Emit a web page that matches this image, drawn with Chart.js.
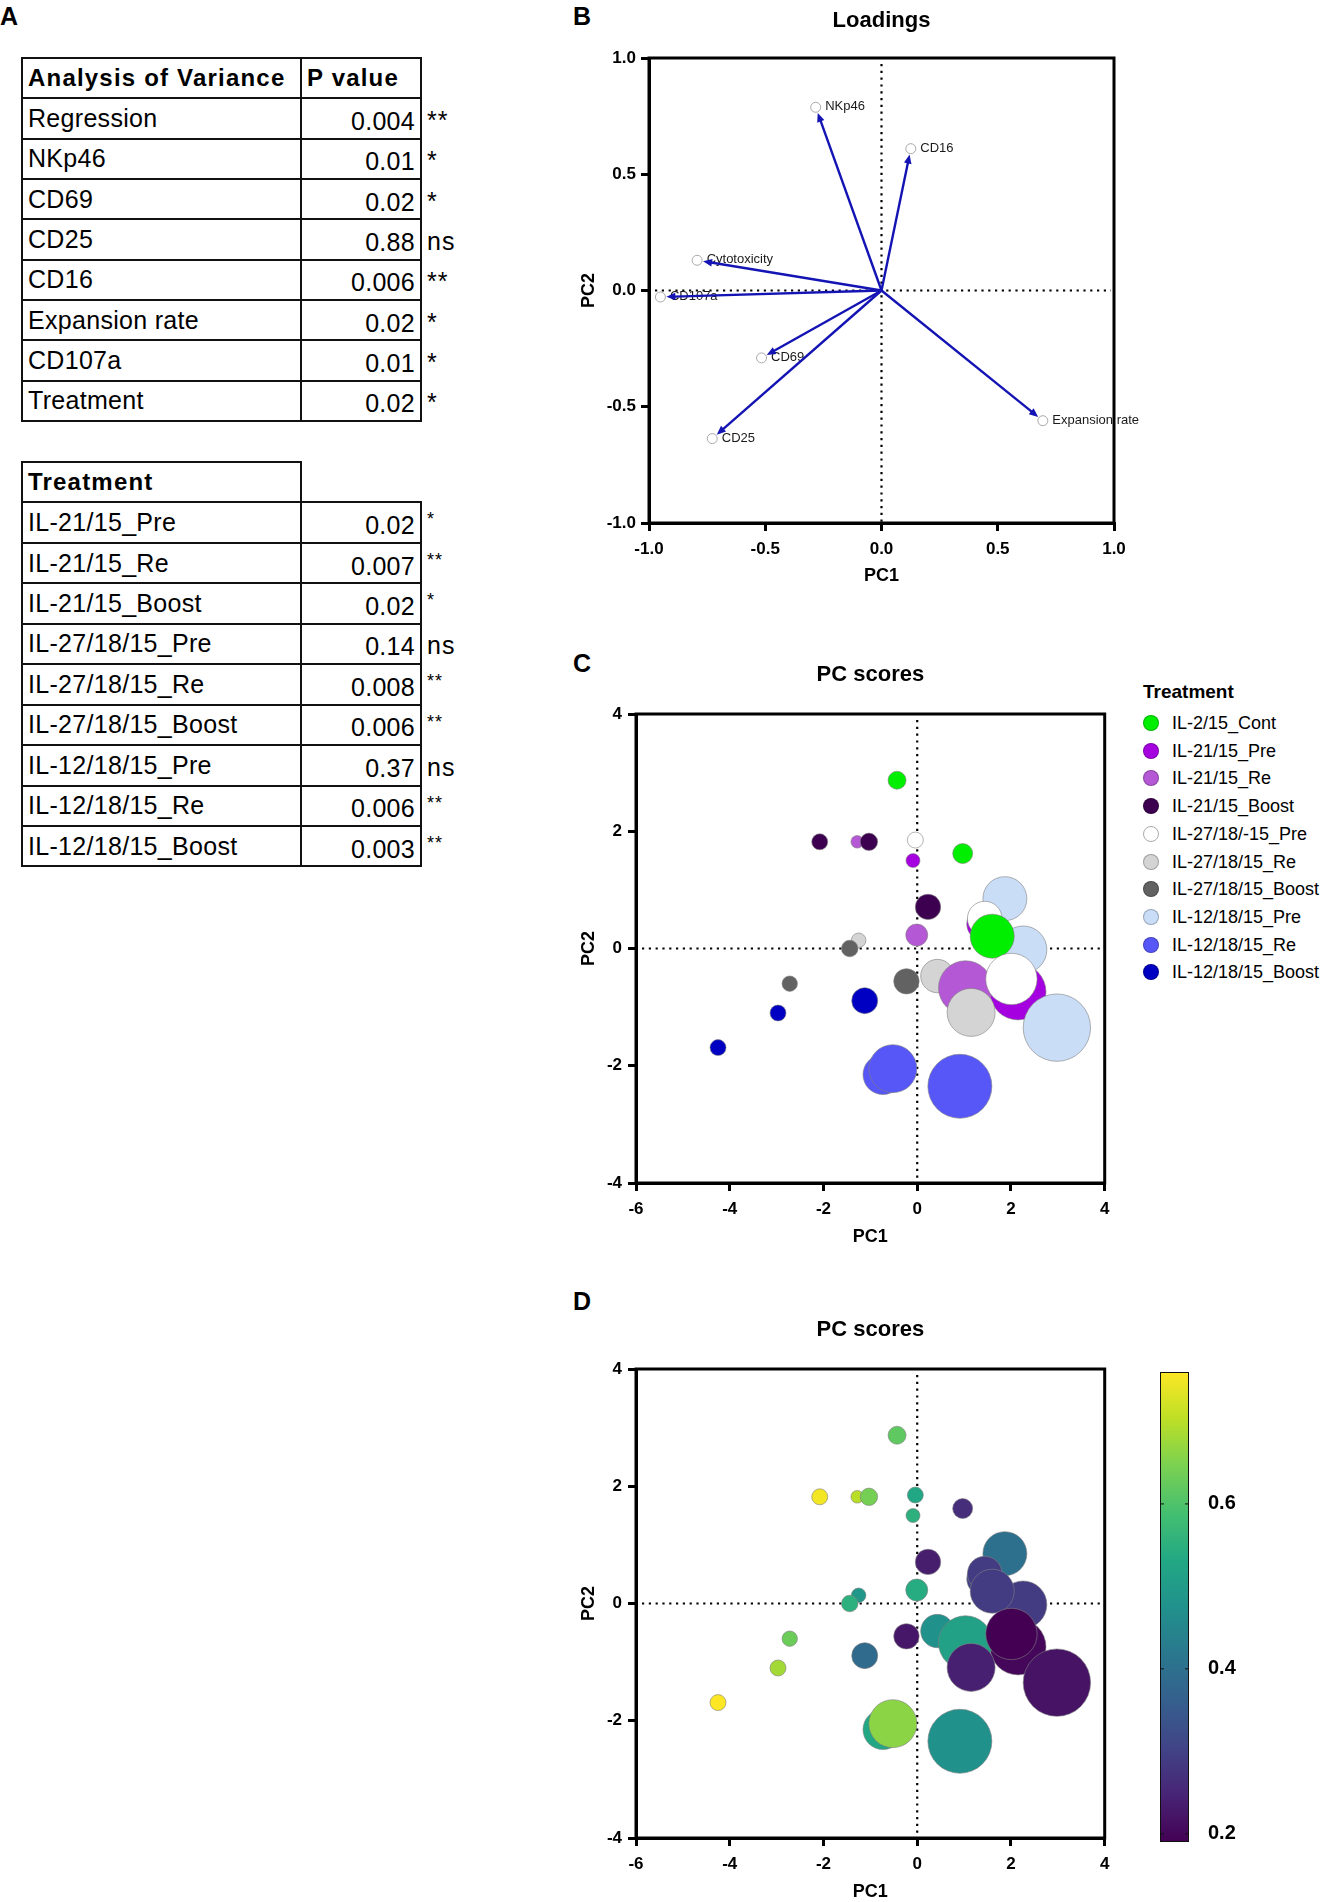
<!DOCTYPE html>
<html>
<head>
<meta charset="utf-8">
<title>PCA of NK cell treatments</title>
<script src="https://cdn.jsdelivr.net/npm/chart.js@4.4.1/dist/chart.umd.min.js"></script>
<style>
  html, body { margin: 0; padding: 0; background: #fff; }
  #page { position: relative; width: 1335px; height: 1902px; overflow: hidden; font-family: "Liberation Sans", Arial, sans-serif; color: #000; }
  .wrap { position: absolute; }
  .panel { position: absolute; font-size: 25px; font-weight: bold; line-height: 25px; }
  .cell { position: absolute; box-sizing: border-box; border: 2px solid #111; display: flex; align-items: center; white-space: nowrap; font-size: 25px; letter-spacing: 0.3px; }
  .cell.head { font-size: 24px; font-weight: bold; letter-spacing: 1.2px; padding-left: 5px; }
  .cell.term { padding-left: 5px; }
  .cell.pval { justify-content: flex-end; padding-right: 5px; padding-top: 6px; }
  .cell.mark { border: none; padding-left: 2px; letter-spacing: 1px; padding-top: 4px; }
  .cell.mark.small { font-size: 18px; align-items: flex-start; padding-top: 8px; }
  .legend-title { position: absolute; left: 1143px; top: 681px; font-size: 19px; font-weight: bold; line-height: 22px; }
  .legend-item { position: absolute; left: 1143px; height: 22px; line-height: 22px; font-size: 18px; padding-left: 29px; white-space: nowrap; }
  .legend-item .dot { position: absolute; left: 0; top: 3px; width: 16px; height: 16px; border-radius: 50%; box-sizing: border-box; border: 1px solid rgba(0,0,0,0.25); }
</style>
</head>
<body>
<div id="page">
  <div class="panel" style="left:0;top:4px">A</div>
  <div class="panel" style="left:573px;top:4px">B</div>
  <div class="panel" style="left:573px;top:651px">C</div>
  <div class="panel" style="left:573px;top:1289px">D</div>

  <div class="wrap" style="left:560px;top:0;width:600px;height:600px"><canvas id="loadings"></canvas></div>
  <div class="wrap" style="left:560px;top:650px;width:579px;height:600px"><canvas id="scoresGroup"></canvas></div>
  <div class="wrap" style="left:560px;top:1305px;width:579px;height:600px"><canvas id="scoresValue"></canvas></div>
  <div class="wrap" style="left:1150px;top:1360px;width:120px;height:500px"><canvas id="colourBar"></canvas></div>

  <div class="legend-title">Treatment</div>
</div>

<script>
// --- tabulka A: ANOVA
const anovaTerms = ['Regression', 'NKp46', 'CD69', 'CD25', 'CD16', 'Expansion rate', 'CD107a', 'Treatment'];
const anovaP = [0.004, 0.01, 0.02, 0.88, 0.006, 0.02, 0.01, 0.02];
const anovaSig = ['**', '*', '*', 'ns', '**', '*', '*', '*'];

const treatTerms = ['IL-21/15_Pre', 'IL-21/15_Re', 'IL-21/15_Boost', 'IL-27/18/15_Pre', 'IL-27/18/15_Re',
  'IL-27/18/15_Boost', 'IL-12/18/15_Pre', 'IL-12/18/15_Re', 'IL-12/18/15_Boost'];
const treatP = [0.02, 0.007, 0.02, 0.14, 0.008, 0.006, 0.37, 0.006, 0.003];
const treatSig = ['*', '**', '*', 'ns', '**', '**', 'ns', '**', '**'];

// --- loadings (B)
const loadingNames = ['NKp46', 'CD16', 'Cytotoxicity', 'CD107a', 'CD69', 'CD25', 'Expansion rate'];
const loadingPC1 = [-0.283, 0.126, -0.793, -0.951, -0.516, -0.728, 0.694];
const loadingPC2 = [0.788, 0.610, 0.130, -0.028, -0.290, -0.637, -0.560];
const loadingTicks = [-1, -0.5, 0, 0.5, 1];

// --- PC scores (C, D)
const treatments = ['IL-2/15_Cont', 'IL-21/15_Pre', 'IL-21/15_Re', 'IL-21/15_Boost', 'IL-27/18/-15_Pre',
  'IL-27/18/15_Re', 'IL-27/18/15_Boost', 'IL-12/18/15_Pre', 'IL-12/18/15_Re', 'IL-12/18/15_Boost'];
const scoreGroup = [0, 0, 3, 2, 3, 4, 1, 3, 2, 5, 6, 6, 6, 9, 9, 9, 8, 8, 8, 5, 7, 7, 1, 2, 5, 1, 4, 0, 4, 7];
const scorePC1 = [-0.43, 0.97, -2.08, -1.28, -1.03, -0.04, -0.09, 0.23, -0.01, -1.25, -1.44, -2.72, -0.23, -1.12, -2.97,
  -4.25, -0.73, -0.52, 0.91, 0.43, 1.87, 2.26, 2.15, 1.03, 1.15, 1.42, 1.44, 1.60, 2.01, 2.98];
const scorePC2 = [2.87, 1.62, 1.82, 1.82, 1.82, 1.85, 1.50, 0.71, 0.23, 0.14, 0.00, -0.60, -0.56, -0.89, -1.10,
  -1.69, -2.15, -2.05, -2.35, -0.47, 0.85, -0.02, -0.74, -0.67, -1.09, 0.42, 0.51, 0.21, -0.52, -1.35];
const bubbleSize = [9, 10, 8, 6.3, 8.7, 8, 7, 12.7, 11, 7.3, 8.3, 7.7, 12.7, 13, 8, 8, 20, 24, 32, 16.7,
  22, 23.7, 28, 27, 24, 17, 17.3, 22, 25.7, 33.7];
const scoreValue = [0.617, 0.264, 0.75, 0.70, 0.64, 0.53, 0.55, 0.235, 0.54, 0.49, 0.55, 0.63, 0.225, 0.385, 0.68,
  0.76, 0.53, 0.66, 0.475, 0.475, 0.40, 0.29, 0.20, 0.515, 0.24, 0.30, 0.29, 0.29, 0.19, 0.22];
const scoreXTicks = [-6, -4, -2, 0, 2, 4];
const scoreYTicks = [-4, -2, 0, 2, 4];
const colourRange = [0.19, 0.76];
const colourTicks = [0.2, 0.4, 0.6];

// barvy
const groupColours = ['#00ee00', '#a400e0', '#b558d6', '#3d0050', '#ffffff', '#d4d4d4', '#626262', '#c9ddf7', '#5757f7', '#0000c2'];
const viridisStops = ['#440154', '#482475', '#414487', '#355f8d', '#2a788e', '#21918c', '#22a884', '#44bf70', '#7ad151', '#bddf26', '#fde725'];

function viridis(t) {
  t = Math.min(1, Math.max(0, t)) * (viridisStops.length - 1);
  const i = Math.min(Math.floor(t), viridisStops.length - 2), f = t - i;
  const a = viridisStops[i], b = viridisStops[i + 1];
  const ch = (c, k) => parseInt(c.substr(1 + 2 * k, 2), 16);
  const mix = k => Math.round(ch(a, k) + (ch(b, k) - ch(a, k)) * f);
  return `rgb(${mix(0)},${mix(1)},${mix(2)})`;
}

// tabulky
const page = document.getElementById('page');
function cell(x, y, w, h, cls, text) {
  const d = document.createElement('div');
  d.className = 'cell ' + cls;
  d.style.cssText = `left:${x}px;top:${y}px;width:${w}px;height:${h}px`;
  d.textContent = text;
  page.appendChild(d);
}
function makeTable(top, rowH, headLeft, headRight, terms, pvals, marks, smallStars) {
  cell(21, top - 1, 281, rowH + 2, 'head', headLeft);
  if (headRight) cell(300, top - 1, 122, rowH + 2, 'head', headRight);
  terms.forEach((t, i) => {
    const y = top + (i + 1) * rowH - 1;
    cell(21, y, 281, rowH + 2, 'term', t);
    cell(300, y, 122, rowH + 2, 'pval', String(pvals[i]));
    const small = smallStars && marks[i] !== 'ns';
    cell(425, y, 60, rowH + 2, small ? 'mark small' : 'mark', marks[i]);
  });
}
makeTable(58, 40.33, 'Analysis of Variance', 'P value', anovaTerms, anovaP, anovaSig, false);
makeTable(462, 40.44, 'Treatment', null, treatTerms, treatP, treatSig, true);

// legenda C
treatments.forEach((name, i) => {
  const row = document.createElement('div');
  row.className = 'legend-item';
  row.style.top = (712 + i * 27.7) + 'px';
  const border = i === 4 ? 'border-color:#aaa' : '';
  row.innerHTML = `<span class="dot" style="background:${groupColours[i]};${border}"></span>${name}`;
  page.appendChild(row);
});

Chart.defaults.font.family = '"Liberation Sans", Arial, sans-serif';
Chart.defaults.color = '#000';

const framePlugin = {
  id: 'frame',
  afterDraw(chart) {
    const { ctx, chartArea: a } = chart;
    ctx.save();
    ctx.strokeStyle = '#000';
    ctx.lineWidth = 3;
    ctx.strokeRect(a.left, a.top, a.right - a.left, a.bottom - a.top);
    ctx.restore();
  }
};

const zeroLines = {
  id: 'zeroLines',
  beforeDatasetsDraw(chart) {
    const { ctx, chartArea: a, scales: { x, y } } = chart;
    const px = x.getPixelForValue(0), py = y.getPixelForValue(0);
    ctx.save();
    ctx.strokeStyle = '#000';
    ctx.lineWidth = 2.2;
    ctx.setLineDash([2.2, 4.6]);
    ctx.beginPath();
    ctx.moveTo(px, a.top + 6); ctx.lineTo(px, a.bottom);
    ctx.moveTo(a.left + 6, py); ctx.lineTo(a.right - 3, py);
    ctx.stroke();
    ctx.restore();
  }
};

// sipky + popisky pro loadings
const loadingArrows = {
  id: 'loadingArrows',
  afterDatasetsDraw(chart) {
    const { ctx, scales: { x, y } } = chart;
    const ox = x.getPixelForValue(0), oy = y.getPixelForValue(0);
    ctx.save();
    ctx.font = '13px "Liberation Sans", Arial, sans-serif';
    ctx.fillStyle = '#1a1a1a';
    ctx.textBaseline = 'middle';
    loadingNames.forEach((name, i) => {
      ctx.fillText(name, x.getPixelForValue(loadingPC1[i]) + 9.5, y.getPixelForValue(loadingPC2[i]) - 0.5);
    });
    ctx.strokeStyle = '#1414b4';
    ctx.fillStyle = '#1414b4';
    ctx.lineWidth = 2.4;
    loadingNames.forEach((name, i) => {
      const px = x.getPixelForValue(loadingPC1[i]), py = y.getPixelForValue(loadingPC2[i]);
      const len = Math.hypot(px - ox, py - oy), ux = (px - ox) / len, uy = (py - oy) / len;
      const tx = px - ux * 6, ty = py - uy * 6;
      const bx = tx - ux * 9, by = ty - uy * 9;
      ctx.beginPath();
      ctx.moveTo(ox, oy);
      ctx.lineTo(bx + ux, by + uy);
      ctx.stroke();
      ctx.beginPath();
      ctx.moveTo(tx, ty);
      ctx.lineTo(bx - uy * 3.8, by + ux * 3.8);
      ctx.lineTo(bx + uy * 3.8, by - ux * 3.8);
      ctx.closePath();
      ctx.fill();
    });
    ctx.restore();
  }
};

function axis(position, ticks, title, fitSize, tickPad, titlePad, fmt) {
  return {
    type: 'linear',
    position,
    min: ticks[0],
    max: ticks[ticks.length - 1],
    afterBuildTicks: s => { s.ticks = ticks.map(v => ({ value: v })); },
    ticks: { font: { size: 17, weight: 'bold' }, color: '#000', padding: tickPad, autoSkip: false, maxRotation: 0, callback: fmt },
    grid: { drawOnChartArea: false, color: '#000', lineWidth: 3, tickLength: 8 },
    border: { display: true, color: '#000', width: 3 },
    title: { display: true, text: title, color: '#000', font: { size: 18, weight: 'bold' }, padding: titlePad },
    afterFit: s => { if (s.isHorizontal()) s.height = fitSize; else s.width = fitSize; }
  };
}

// B - Loadings
new Chart(document.getElementById('loadings'), {
  type: 'scatter',
  data: {
    datasets: [{
      data: loadingPC1.map((v, i) => ({ x: v, y: loadingPC2[i] })),
      pointRadius: 5,
      pointBackgroundColor: '#fff',
      pointBorderColor: '#a8a8a8',
      pointBorderWidth: 1
    }]
  },
  options: {
    responsive: true,
    maintainAspectRatio: false,
    animation: false,
    events: [],
    layout: { padding: { left: 0, right: 46, top: 0, bottom: 0 } },
    plugins: {
      legend: { display: false },
      tooltip: { enabled: false },
      title: { display: true, text: 'Loadings', fullSize: false, color: '#000', font: { size: 22, weight: 'bold' }, padding: { top: 7.8, bottom: 23.8 } }
    },
    scales: {
      x: axis('bottom', loadingTicks, 'PC1', 77, 7.8, { top: 0, bottom: 13.2 }, v => v.toFixed(1)),
      y: axis('left', loadingTicks, 'PC2', 89, 5, { top: 18, bottom: 0 }, v => v.toFixed(1))
    }
  },
  plugins: [zeroLines, loadingArrows, framePlugin]
});

// C + D - PC scores
function scoreChart(id, colours) {
  return new Chart(document.getElementById(id), {
    type: 'bubble',
    data: {
      datasets: [{
        data: scorePC1.map((v, i) => ({ x: v, y: scorePC2[i], r: bubbleSize[i] })),
        backgroundColor: colours,
        borderColor: '#808080',
        borderWidth: 0.6
      }]
    },
    options: {
      responsive: true,
      maintainAspectRatio: false,
      animation: false,
      events: [],
      // bubliny si vynuti min. padding = nejvetsi polomer, proto right: 0 a sirsi canvas
      layout: { padding: { left: 0, right: 0, top: 0, bottom: 0 } },
      plugins: {
        legend: { display: false },
        tooltip: { enabled: false },
        title: { display: true, text: 'PC scores', fullSize: false, color: '#000', font: { size: 22, weight: 'bold' }, padding: { top: 12, bottom: 25.6 } }
      },
      scales: {
        x: axis('bottom', scoreXTicks, 'PC1', 67, 7.8, { top: 0, bottom: 2.2 }, v => v),
        y: axis('left', scoreYTicks, 'PC2', 76, 6, { top: 18, bottom: 0 }, v => v)
      }
    },
    plugins: [zeroLines, framePlugin]
  });
}
scoreChart('scoresGroup', scoreGroup.map(g => groupColours[g]));
scoreChart('scoresValue', scoreValue.map(v => viridis((v - colourRange[0]) / (colourRange[1] - colourRange[0]))));

// barevna skala k D
const colourBarPlugin = {
  id: 'colourBarFill',
  beforeDatasetsDraw(chart) {
    const { ctx, chartArea: a, scales: { y } } = chart;
    const g = ctx.createLinearGradient(0, a.bottom, 0, a.top);
    viridisStops.forEach((c, i) => g.addColorStop(i / (viridisStops.length - 1), c));
    ctx.save();
    ctx.fillStyle = g;
    ctx.fillRect(a.left, a.top, a.right - a.left, a.bottom - a.top);
    ctx.strokeStyle = '#111';
    ctx.lineWidth = 1;
    ctx.strokeRect(a.left + 0.5, a.top + 0.5, a.right - a.left - 1, a.bottom - a.top - 1);
    colourTicks.forEach(v => {
      const py = y.getPixelForValue(v);
      ctx.beginPath();
      ctx.moveTo(a.left, py); ctx.lineTo(a.left + 4, py);
      ctx.moveTo(a.right - 4, py); ctx.lineTo(a.right, py);
      ctx.stroke();
    });
    ctx.restore();
  }
};

new Chart(document.getElementById('colourBar'), {
  type: 'scatter',
  data: { datasets: [{ data: [] }] },
  options: {
    responsive: true,
    maintainAspectRatio: false,
    animation: false,
    events: [],
    layout: { padding: { left: 10, right: 0, top: 12, bottom: 18 } },
    plugins: { legend: { display: false }, tooltip: { enabled: false } },
    scales: {
      x: { display: false, min: 0, max: 1 },
      y: {
        position: 'right',
        min: colourRange[0],
        max: colourRange[1],
        afterBuildTicks: s => { s.ticks = colourTicks.map(v => ({ value: v })); },
        // neviditelne ticky drzi odstup popisku (padding by zvetsil okraje grafu)
        ticks: { font: { size: 20, weight: 'bold' }, color: '#000', padding: 0, callback: v => v.toFixed(1) },
        grid: { drawOnChartArea: false, color: 'rgba(0,0,0,0)', tickLength: 19 },
        border: { display: false },
        afterFit: s => { s.width = 81; }
      }
    }
  },
  plugins: [colourBarPlugin]
});
</script>
</body>
</html>
